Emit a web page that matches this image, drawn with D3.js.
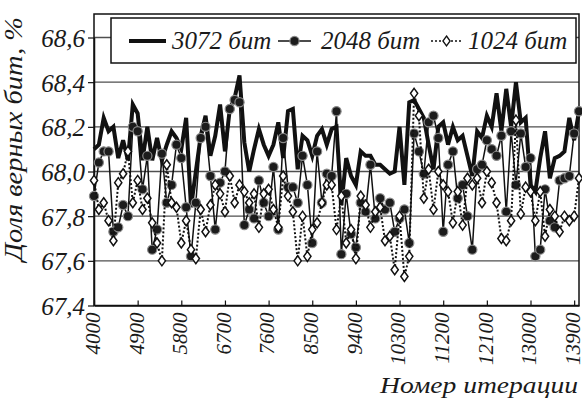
<!DOCTYPE html>
<html>
<head>
<meta charset="utf-8">
<script src="https://cdnjs.cloudflare.com/ajax/libs/d3/7.8.5/d3.min.js"></script>
<style>
  body { margin: 0; background: #fff; }
  svg text { font-family: "Liberation Serif", "DejaVu Serif", serif; font-style: italic; fill: #1a1a1a; }
</style>
</head>
<body>
<svg id="chart" width="582" height="401"></svg>
<script>
// iteration numbers (categories)
const iterations = d3.range(4000, 14001, 100);

const xTickValues = [4000, 4900, 5800, 6700, 7600, 8500, 9400, 10300, 11200, 12100, 13000, 13900];
const yTickValues = [67.4, 67.6, 67.8, 68.0, 68.2, 68.4, 68.6];

// 3072 bit
const bits3072 = [
  68.10, 68.12, 68.24, 68.18, 68.20, 68.06, 68.14, 68.05, 68.30, 68.26,
  68.05, 68.20, 68.05, 68.15, 68.05, 68.12, 68.18, 68.15, 68.10, 68.24,
  67.84, 68.00, 68.16, 68.25, 68.07, 68.16, 68.30, 68.09, 68.28, 68.33,
  68.43, 68.13, 68.00, 68.10, 68.19, 68.12, 68.07, 68.12, 68.22, 68.06,
  68.27, 68.28, 68.01, 68.16, 68.14, 68.07, 68.16, 68.19, 68.12, 68.19,
  68.20, 67.85, 68.06, 67.98, 67.94, 68.09, 68.07, 68.07, 68.03, 68.03,
  68.01, 67.99, 68.00, 68.20, 67.94, 68.31, 68.32, 68.28, 68.24, 68.12,
  68.01, 68.20, 68.22, 68.12, 68.20, 68.14, 68.16, 68.07, 67.98, 68.18,
  68.15, 68.25, 68.20, 68.35, 68.18, 68.37, 68.20, 68.40, 68.22, 68.24,
  67.94, 67.91, 68.06, 68.18, 67.97, 68.06, 68.07, 68.09, 68.24, 68.14,
  68.27
];

// 2048 bit
const bits2048 = [
  67.89, 68.04, 68.09, 68.09, 67.73, 67.75, 67.85, 67.80, 68.20, 68.18,
  67.92, 68.07, 67.65, 67.74, 68.08, 67.86, 67.94, 68.12, 68.06, 67.84,
  67.62, 67.86, 68.15, 68.20, 67.98, 67.74, 67.95, 68.00, 68.28, 68.32,
  68.31, 67.76, 67.83, 67.79, 67.96, 67.86, 67.80, 68.02, 67.74, 68.15,
  67.93, 67.93, 67.86, 68.07, 67.94, 67.68, 68.09, 67.86, 67.99, 67.98,
  68.27, 67.63, 67.90, 67.72, 67.66, 67.86, 67.82, 68.03, 67.79, 67.88,
  67.83, 67.86, 67.73, 67.79, 67.83, 67.68, 68.17, 68.09, 67.99, 68.22,
  68.25, 68.15, 67.73, 68.03, 68.09, 67.88, 67.94, 67.80, 67.65, 68.01,
  68.03, 68.14, 68.10, 68.07, 68.16, 67.82, 68.18, 67.94, 68.17, 68.02,
  68.06, 67.62, 67.65, 67.92, 67.78, 67.75, 67.96, 67.97, 67.98, 68.17,
  68.27
];

// 1024 bit
const bits1024 = [
  67.96, 67.83, 67.86, 67.78, 67.69, 67.95, 67.99, 68.09, 67.86, 67.96,
  67.83, 67.88, 67.77, 67.68, 67.60, 68.03, 67.86, 67.84, 67.68, 67.78,
  67.65, 67.61, 67.83, 67.73, 67.85, 67.94, 67.90, 67.82, 67.98, 67.86,
  67.94, 67.91, 67.86, 67.90, 67.75, 67.90, 67.92, 67.83, 67.75, 67.98,
  67.89, 67.82, 67.60, 67.80, 67.62, 67.74, 67.77, 67.86, 67.94, 67.94,
  67.74, 67.89, 67.68, 67.74, 67.61, 67.89, 67.85, 67.75, 67.82, 67.84,
  67.69, 67.71, 67.56, 67.80, 67.53, 67.62, 68.35, 68.25, 67.88, 68.01,
  67.83, 68.00, 67.94, 67.91, 67.77, 67.91, 67.76, 67.97, 67.94, 67.97,
  67.86, 68.00, 67.95, 67.86, 67.70, 67.69, 67.78, 68.23, 67.81, 67.93,
  67.91, 67.78, 67.91, 67.71, 67.83, 67.80, 67.73, 67.80, 67.78, 67.80,
  67.97
];

const svg = d3.select("#chart");
const serif = "Liberation Serif, DejaVu Serif, serif";

// plot area
const plot = { left: 94, right: 579, top: 14, bottom: 305.5 };

const x = d3.scaleLinear().domain([4000, 14000]).range([plot.left, plot.right]);
const y = d3.scaleLinear().domain([67.4, 68.6]).range([plot.bottom, 37.5]);

const fmt = (d) => d3.format(".1f")(d).replace(".", ",");

// grid lines
svg.append("g")
  .selectAll("line")
  .data(yTickValues.filter((d) => d > 67.4))
  .enter()
  .append("line")
  .attr("x1", plot.left)
  .attr("x2", plot.right)
  .attr("y1", (d) => y(d))
  .attr("y2", (d) => y(d))
  .attr("stroke", "#4f4f4f")
  .attr("stroke-width", 1.4);

// frame
svg.append("rect")
  .attr("x", plot.left)
  .attr("y", plot.top)
  .attr("width", plot.right - plot.left)
  .attr("height", plot.bottom - plot.top)
  .attr("fill", "none")
  .attr("stroke", "#111")
  .attr("stroke-width", 1.5);

// y axis
const yAxis = svg.append("g")
  .attr("transform", `translate(${plot.left},0)`)
  .call(d3.axisLeft(y).tickValues(yTickValues).tickFormat(fmt).tickSize(6).tickSizeOuter(0));
yAxis.attr("font-family", serif).attr("font-size", 25);
yAxis.select(".domain").attr("stroke", "#111").attr("stroke-width", 1.5);
yAxis.selectAll(".tick line").attr("stroke", "#111").attr("stroke-width", 1.2);
yAxis.selectAll("text")
  .attr("x", -9)
  .attr("dy", "0.36em")
  .attr("font-family", serif)
  .attr("font-style", "italic")
  .attr("font-size", 25)
  .attr("fill", "#222");

// x axis, ticks pointing inward
const xAxis = svg.append("g")
  .attr("transform", `translate(0,${plot.bottom})`)
  .call(d3.axisBottom(x).tickValues(xTickValues).tickSize(-5).tickSizeOuter(0).tickFormat((d) => d));
xAxis.attr("font-family", serif).attr("font-size", 21);
xAxis.select(".domain").attr("stroke", "#111").attr("stroke-width", 1.5);
xAxis.selectAll(".tick line").attr("stroke", "#111").attr("stroke-width", 1.2);
xAxis.selectAll("text")
  .attr("transform", "rotate(-90)")
  .attr("x", -7)
  .attr("y", -2)
  .attr("dy", "0.35em")
  .attr("text-anchor", "end")
  .attr("font-family", serif)
  .attr("font-style", "italic")
  .attr("font-size", 21)
  .attr("fill", "#222");

// series
const line = (vals) => d3.line()
  .x((d, i) => x(iterations[i]))
  .y((d) => y(d))(vals);

svg.append("path")
  .attr("d", line(bits3072))
  .attr("fill", "none")
  .attr("stroke", "#111")
  .attr("stroke-width", 4)
  .attr("stroke-linejoin", "miter");

svg.append("path")
  .attr("d", line(bits2048))
  .attr("fill", "none")
  .attr("stroke", "#111")
  .attr("stroke-width", 1.5);

svg.append("g")
  .selectAll("circle")
  .data(bits2048)
  .enter()
  .append("circle")
  .attr("cx", (d, i) => x(iterations[i]))
  .attr("cy", (d) => y(d))
  .attr("r", 4.6)
  .attr("fill", "#1c1c1c")
  .attr("stroke", "#8a8a8a")
  .attr("stroke-width", 1.2);

svg.append("path")
  .attr("d", line(bits1024))
  .attr("fill", "none")
  .attr("stroke", "#111")
  .attr("stroke-width", 2)
  .attr("stroke-dasharray", "2,2");

const diamond = (cx, cy) => `M${cx},${cy - 5}L${cx + 3.6},${cy}L${cx},${cy + 5}L${cx - 3.6},${cy}Z`;

svg.append("g")
  .selectAll("path")
  .data(bits1024)
  .enter()
  .append("path")
  .attr("d", (d, i) => diamond(x(iterations[i]), y(d)))
  .attr("fill", "#fff")
  .attr("stroke", "#111")
  .attr("stroke-width", 1.5);

// legend
const legend = svg.append("g");
legend.append("rect")
  .attr("x", 111)
  .attr("y", 18)
  .attr("width", 465)
  .attr("height", 45)
  .attr("fill", "#fff")
  .attr("stroke", "#111")
  .attr("stroke-width", 1.5);

const ly = 41;
const legendText = (tx, label) =>
  legend.append("text")
    .attr("x", tx)
    .attr("y", ly + 8)
    .attr("font-family", serif)
    .attr("font-style", "italic")
    .attr("font-size", 25)
    .text(label);

legend.append("line")
  .attr("x1", 129).attr("x2", 166).attr("y1", ly).attr("y2", ly)
  .attr("stroke", "#111").attr("stroke-width", 4);
legendText(172, "3072 бит");

legend.append("line")
  .attr("x1", 278).attr("x2", 311).attr("y1", ly).attr("y2", ly)
  .attr("stroke", "#111").attr("stroke-width", 1.5);
legend.append("circle")
  .attr("cx", 294.5).attr("cy", ly).attr("r", 4.6)
  .attr("fill", "#1c1c1c").attr("stroke", "#8a8a8a").attr("stroke-width", 1.2);
legendText(321, "2048 бит");

legend.append("line")
  .attr("x1", 431).attr("x2", 462).attr("y1", ly).attr("y2", ly)
  .attr("stroke", "#111").attr("stroke-width", 1.5).attr("stroke-dasharray", "2,2");
legend.append("path")
  .attr("d", diamond(446.5, ly))
  .attr("fill", "#fff").attr("stroke", "#111").attr("stroke-width", 1.3);
legendText(468, "1024 бит");

// axis titles
svg.append("text")
  .attr("transform", "translate(22,139) rotate(-90)")
  .attr("text-anchor", "middle")
  .attr("font-family", serif)
  .attr("font-style", "italic")
  .attr("font-size", 25)
  .attr("textLength", 244)
  .attr("lengthAdjust", "spacingAndGlyphs")
  .text("Доля верных бит, %");

svg.append("text")
  .attr("x", 578)
  .attr("y", 393)
  .attr("text-anchor", "end")
  .attr("font-family", serif)
  .attr("font-style", "italic")
  .attr("font-size", 24)
  .attr("textLength", 198)
  .attr("lengthAdjust", "spacingAndGlyphs")
  .text("Номер итерации");
</script>
</body>
</html>
